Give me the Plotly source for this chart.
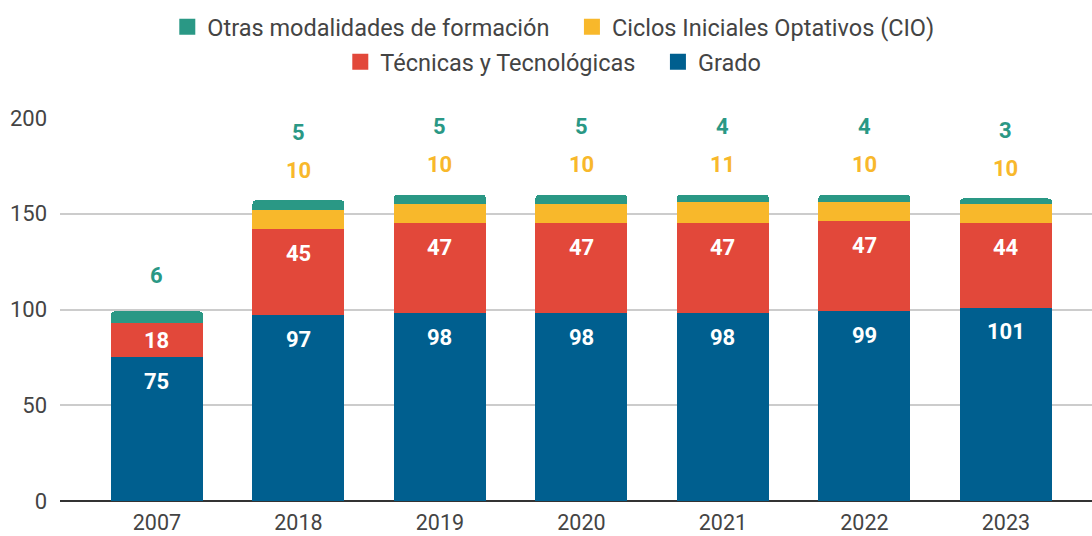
import plotly.graph_objects as go

years = ["2007", "2018", "2019", "2020", "2021", "2022", "2023"]
grado = [75, 97, 98, 98, 98, 99, 101]
tecnicas = [18, 45, 47, 47, 47, 47, 44]
cio = [None, 10, 10, 10, 11, 10, 10]
otras = [6, 5, 5, 5, 4, 4, 3]

NB = "\u00a0\u00a0\u00a0"
names = {
    "grado": "Grado",
    "tecnicas": "Técnicas y Tecnológicas",
    "cio": "Ciclos Iniciales Optativos (CIO)",
    "otras": "Otras modalidades de formación",
}
legend_names = {
    "grado": "Grado",
    "tecnicas": "Técnicas y Tecnológicas" + NB,
    "cio": "Ciclos Iniciales Optativos (CIO)",
    "otras": "Otras modalidades de formación" + NB,
}
colors = {
    "grado": "#005f8f",
    "tecnicas": "#e2483a",
    "cio": "#f8b82b",
    "otras": "#2a9885",
}

FONT = "Roboto, Arial, sans-serif"
PX_PER_UNIT = 383 / 200.0

fig = go.Figure()
series = [("grado", grado), ("tecnicas", tecnicas), ("cio", cio), ("otras", otras)]
for key, vals in series:
    fig.add_trace(go.Bar(
        x=years, y=[v if v is not None else 0 for v in vals],
        name=names[key], marker=dict(color=colors[key], line=dict(width=0)),
        showlegend=False, hoverinfo="x+y+name",
    ))

# legend entries (bigger square symbols)
for key, leg in [("otras", "legend"), ("cio", "legend"), ("tecnicas", "legend2"), ("grado", "legend2")]:
    fig.add_trace(go.Scatter(
        x=[None], y=[None], mode="markers", name=legend_names[key],
        marker=dict(symbol="square", size=16, color=colors[key]),
        legend=leg, showlegend=True,
    ))

annotations = []
halo = "1px 1px 1px #fff, -1px -1px 1px #fff, 1px -1px 1px #fff, -1px 1px 1px #fff"
for i, yr in enumerate(years):
    base = 0
    for key, vals in [("grado", grado), ("tecnicas", tecnicas)]:
        v = vals[i]
        top = base + v
        annotations.append(dict(
            x=i, y=top, xref="x", yref="y", text=str(v), showarrow=False,
            yanchor="middle", yshift=-min(24, v * PX_PER_UNIT / 2),
            font=dict(family=FONT, size=22, color="white", weight="bold"),
        ))
        base = top
    total = base + (cio[i] or 0) + (otras[i] or 0)
    slot_shifts = [30, 68]
    slot = 0
    for key, vals in [("cio", cio), ("otras", otras)]:
        v = vals[i]
        if v is None:
            continue
        annotations.append(dict(
            x=i, y=total, xref="x", yref="y", text=str(v), showarrow=False,
            yanchor="middle",
            yshift=slot_shifts[slot] + (6 if (slot == 0 and cio[i] is None) else 0),
            font=dict(family=FONT, size=22, color=colors[key], weight="bold", shadow=halo),
        ))
        slot += 1

legend_common = dict(
    orientation="h", xanchor="center", x=0.478, yanchor="middle",
    font=dict(family=FONT, size=23.5, color="#444"), bgcolor="rgba(0,0,0,0)",
    itemsizing="trace", traceorder="normal",
)

fig.update_layout(
    barmode="stack",
    bargap=0.35,
    barcornerradius=4,
    width=1092, height=536,
    margin=dict(l=60, r=0, t=118, b=35, autoexpand=False),
    paper_bgcolor="white", plot_bgcolor="white",
    font=dict(family=FONT, size=22, color="#444"),
    annotations=annotations,
    legend=dict(y=(501 - 27) / 383, **legend_common),
    legend2=dict(y=(501 - 62) / 383, **legend_common),
    xaxis=dict(
        type="category", range=[-0.685, 6.608], showgrid=False,
        tickfont=dict(family=FONT, size=21.5, color="#444"),
        ticks="", ticklabelstandoff=6, showline=False, zeroline=False,
    ),
    yaxis=dict(
        range=[0, 200], tickvals=[0, 50, 100, 150, 200],
        showgrid=True, gridcolor="#cccccc", gridwidth=1.5,
        zeroline=True, zerolinecolor="#333333", zerolinewidth=2,
        tickfont=dict(family=FONT, size=22, color="#444"),
        ticks="", ticklabelstandoff=12, showline=False,
    ),
)

fig.write_html("out.html", config={"displayModeBar": False},
               post_script="document.body.style.margin='0';")
